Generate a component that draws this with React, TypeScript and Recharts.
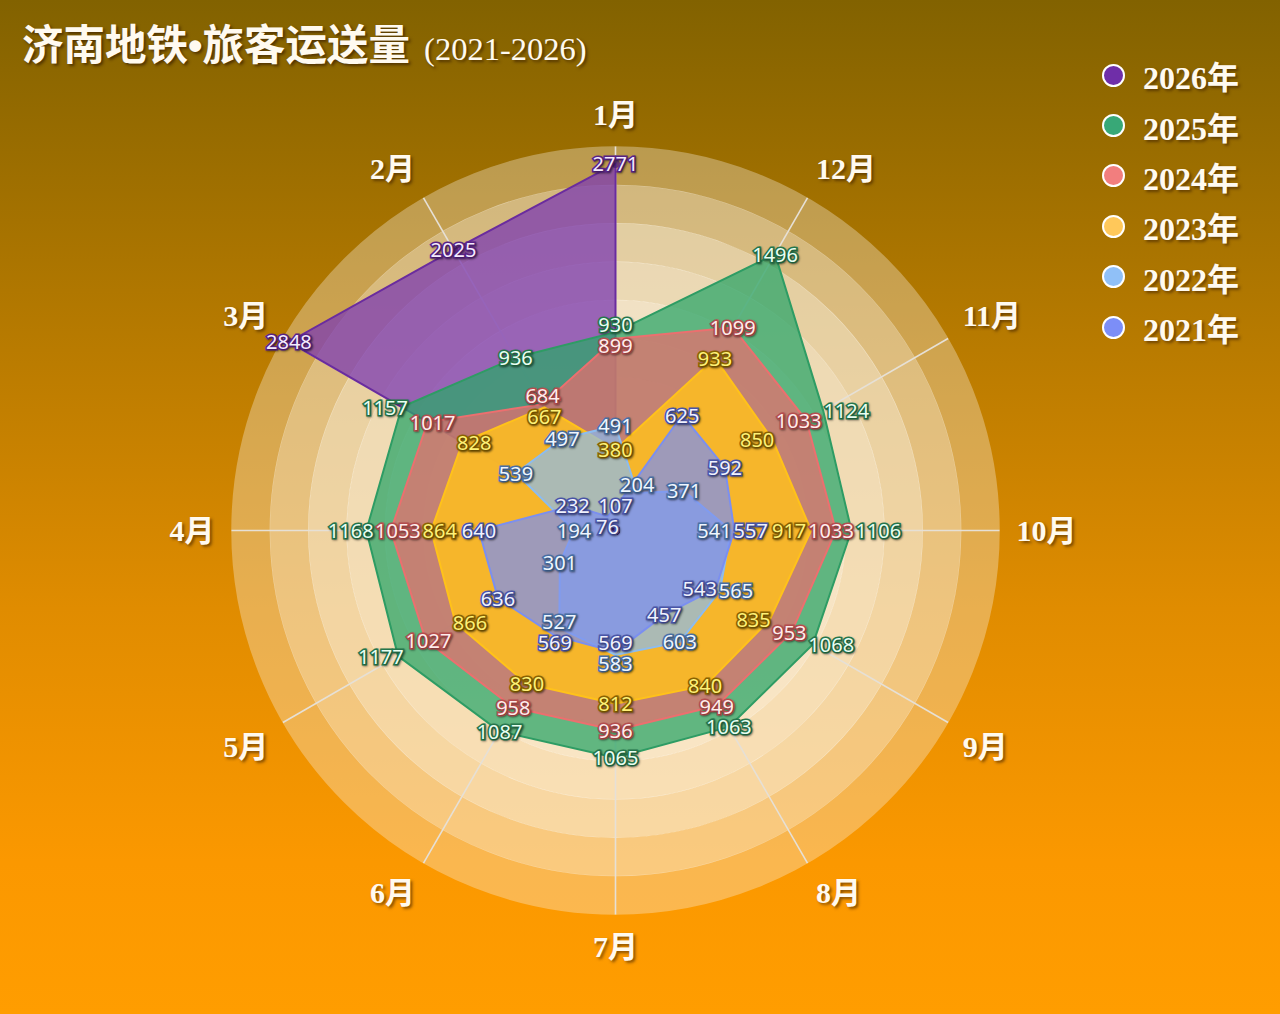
import React from 'react';
import {
  RadarChart,
  Radar,
  PolarGrid,
  PolarAngleAxis,
  PolarRadiusAxis,
  LabelList,
  Legend,
} from 'recharts';

// 济南地铁 monthly ridership (万人次)
const months = ['1月', '2月', '3月', '4月', '5月', '6月', '7月', '8月', '9月', '10月', '11月', '12月'];

const y2026 = [2771, 2025, 2848, null, null, null, null, null, null, null, null, null];
const y2025 = [930, 936, 1157, 1168, 1177, 1087, 1065, 1063, 1068, 1106, 1124, 1496];
const y2024 = [899, 684, 1017, 1053, 1027, 958, 936, 949, 953, 1033, 1033, 1099];
const y2023 = [380, 667, 828, 864, 866, 830, 812, 840, 835, 917, 850, 933];
const y2022 = [491, 497, 539, 194, 301, 527, 583, 603, 565, 541, 371, 204];
const y2021 = [107, 76, 232, 640, 636, 569, 569, 457, 543, 557, 592, 625];

// the 2026 polygon sits on its own radar with larger indicator maxima
const max2026 = [2900, 2400, 2900, 2900, 2900, 2900, 2900, 2900, 2900, 2900, 2900, 2900];
const maxBase = 1800;

const CX = 615.5;
const CY = 530.5;
const R = 384;

const series = [
  { key: 's2026', name: '2026年', values: y2026, stroke: '#6a2c9e', fill: '#7d3db2', opacity: 0.76, dot: '#6f2ea8', text: '#f5eaff', outline: '#5a2488' },
  { key: 's2025', name: '2025年', values: y2025, stroke: '#2e9c64', fill: '#2ea56a', opacity: 0.75, dot: '#38a877', text: '#e8fff2', outline: '#26784d' },
  { key: 's2024', name: '2024年', values: y2024, stroke: '#ec6f6f', fill: '#ea6e6e', opacity: 0.72, dot: '#f27e7e', text: '#ffeceb', outline: '#b84f50' },
  { key: 's2023', name: '2023年', values: y2023, stroke: '#ffc21a', fill: '#ffbf1f', opacity: 0.85, dot: '#ffc85a', text: '#fff176', outline: '#8c6400' },
  { key: 's2022', name: '2022年', values: y2022, stroke: '#8cbcf0', fill: '#8cbcf0', opacity: 0.7, dot: '#90c0f7', text: '#eef6ff', outline: '#4a70a6' },
  { key: 's2021', name: '2021年', values: y2021, stroke: '#7b8ff0', fill: '#7b8ff0', opacity: 0.72, dot: '#7c8ef7', text: '#f0f2ff', outline: '#4a56aa' },
];

const scaleOf = (key: string, i: number) => (key === 's2026' ? max2026[i] : maxBase);

// recharts walks clockwise, the original goes counter-clockwise: 1月, then 12月 ... 2月 clockwise
const order = months.map((_, k) => (k === 0 ? 0 : months.length - k));

const data = order.map((i) => {
  const row: any = { month: months[i] };
  series.forEach((s) => {
    const v = s.values[i];
    row[s.key] = v == null ? 0 : v / scaleOf(s.key, i);
    row[s.key + 'Raw'] = v;
  });
  return row;
});

// push overlapping value labels apart (like echarts' moveOverlap)
const labelOffsets = (() => {
  const boxes: any[] = [];
  series.forEach((s) => {
    s.values.forEach((v, i) => {
      if (v == null) return;
      const r = (v / scaleOf(s.key, i)) * R;
      const a = ((90 + 30 * i) * Math.PI) / 180;
      boxes.push({
        key: s.key + '-' + i,
        month: i,
        horiz: Math.abs(Math.cos(a)) > 0.7,
        x: CX + r * Math.cos(a),
        y: CY - r * Math.sin(a),
        w: String(v).length * 11.4 + 2,
        h: 21,
        dx: 0,
        dy: 0,
      });
    });
  });
  for (let it = 0; it < 120; it++) {
    let moved = false;
    for (let p = 0; p < boxes.length; p++) {
      for (let q = p + 1; q < boxes.length; q++) {
        const A = boxes[p];
        const B = boxes[q];
        const ax = A.x + A.dx, ay = A.y + A.dy, bx = B.x + B.dx, by = B.y + B.dy;
        const ox = (A.w + B.w) / 2 - Math.abs(ax - bx);
        const oy = (A.h + B.h) / 2 - Math.abs(ay - by);
        if (ox > 0.5 && oy > 0.5) {
          moved = true;
          const alongX = A.month === B.month ? A.horiz : ox < oy;
          if (alongX) {
            const sg = ax <= bx ? -1 : 1;
            A.dx += (sg * ox) / 2;
            B.dx -= (sg * ox) / 2;
          } else {
            const sg = ay <= by ? -1 : 1;
            A.dy += (sg * oy) / 2;
            B.dy -= (sg * oy) / 2;
          }
        }
      }
    }
    if (!moved) break;
  }
  const map: Record<string, { dx: number; dy: number }> = {};
  boxes.forEach((b) => (map[b.key] = { dx: b.dx, dy: b.dy }));
  return map;
})();

const ringAlpha = [0.35, 0.56, 0.72, 0.8, 0.87, 0.9, 0.92, 0.92, 0.92, 0.92];

function Rings() {
  const w = R / ringAlpha.length;
  return (
    <svg width={1280} height={1014} style={{ position: 'absolute', left: 0, top: 0 }}>
      {ringAlpha.map((a, i) => (
        <circle
          key={i}
          cx={CX}
          cy={CY}
          r={R - w * i - w / 2}
          fill="none"
          stroke={`rgba(250,241,225,${a})`}
          strokeWidth={w + 0.5}
        />
      ))}
    </svg>
  );
}

const MonthTick = (props: any) => {
  const { payload, x, y } = props;
  // anchor the month name just outside the rings, aligned away from the centre
  const dx = x - CX;
  const dy = y - CY;
  const d = Math.sqrt(dx * dx + dy * dy) || 1;
  const ux = dx / d;
  const uy = dy / d;
  const ax = CX + ux * (R + 17);
  const ay = CY + uy * (R + 17);
  const anchor = ux < -0.05 ? 'end' : ux > 0.05 ? 'start' : 'middle';
  const cy = uy < -0.05 ? ay - 15 : uy > 0.05 ? ay + 15 : ay;
  return (
    <text
      x={ax}
      y={cy}
      textAnchor={anchor}
      dominantBaseline="central"
      fontSize={30}
      fontWeight="bold"
      fontFamily="'Liberation Serif', 'Noto Sans CJK SC', serif"
      fill="#fffaf0"
      style={{ textShadow: '2px 2px 3px rgba(60,30,0,0.6)' }}
    >
      {payload.value}
    </text>
  );
};

const makeLabel = (s: any) => (props: any) => {
  const { x, y, value, index } = props;
  if (value == null || value === 0) return null;
  const off = labelOffsets[s.key + '-' + order[index]] || { dx: 0, dy: 0 };
  return (
    <text
      x={x + off.dx}
      y={y + off.dy}
      textAnchor="middle"
      dominantBaseline="central"
      fontSize={20}
      fontFamily="'Noto Sans', sans-serif"
      fill={s.text}
      stroke={s.outline}
      strokeWidth={3.2}
      paintOrder="stroke"
      style={{ textShadow: '1px 1px 2px rgba(0,0,0,0.4)' }}
    >
      {value}
    </text>
  );
};

const LegendBox = () => (
  <div style={{ display: 'flex', flexDirection: 'column' }}>
    {series.map((s) => (
      <div key={s.key} style={{ display: 'flex', alignItems: 'center', height: 50.4 }}>
        <span
          style={{
            width: 23,
            height: 23,
            borderRadius: '50%',
            background: s.dot,
            border: '2px solid #fff',
            boxSizing: 'border-box',
            marginRight: 18,
          }}
        />
        <span
          style={{
            fontSize: 32,
            fontWeight: 'bold',
            fontFamily: "'Liberation Serif', 'Noto Sans CJK SC', serif",
            color: '#fffaf0',
            textShadow: '2px 2px 3px rgba(60,30,0,0.6)',
          }}
        >
          {s.name}
        </span>
      </div>
    ))}
  </div>
);

export default function App() {
  return (
    <div
      style={{
        position: 'absolute',
        left: 0,
        top: 0,
        width: 1280,
        height: 1014,
        overflow: 'hidden',
        background: 'linear-gradient(180deg, #826200 0%, #b27800 30%, #e08c00 60%, #fb9800 85%, #ff9d00 100%)',
      }}
    >
      <Rings />
      <div
        style={{
          position: 'absolute',
          left: 22,
          top: 12,
          color: '#fffaf0',
          whiteSpace: 'nowrap',
          textShadow: '2px 2px 3px rgba(50,25,0,0.65)',
        }}
      >
        <span style={{ fontSize: 41.5, fontWeight: 'bold', fontFamily: "'Noto Sans CJK SC', sans-serif" }}>
          济南地铁<span style={{ fontFamily: "'Liberation Sans', sans-serif" }}>•</span>旅客运送量
        </span>
        <span style={{ fontSize: 32.5, fontFamily: "'Liberation Serif', serif", marginLeft: 14 }}>(2021-2026)</span>
      </div>
      <div style={{ position: 'absolute', left: 0, top: 0 }}>
        <RadarChart
          width={1280}
          height={1014}
          data={data}
          cx={CX}
          cy={CY}
          outerRadius={R}
          margin={{ top: 0, right: 0, bottom: 0, left: 0 }}
        >
          <PolarGrid gridType="circle" polarRadius={[0]} stroke="#e6e0d6" strokeWidth={1.6} />
          <PolarAngleAxis dataKey="month" tick={<MonthTick />} tickLine={false} axisLine={false} />
          <PolarRadiusAxis domain={[0, 1]} tick={false} axisLine={false} />
          {series.map((s) => (
            <Radar
              key={s.key}
              name={s.name}
              dataKey={s.key}
              stroke={s.stroke}
              strokeWidth={2}
              fill={s.fill}
              fillOpacity={s.opacity}
              dot={s.key === 's2026' ? { r: 4.5, fill: '#4b1d7a', stroke: 'none' } : false}
              isAnimationActive={false}
            />
          ))}
          {/* label-only copies so every value sits above all the fills */}
          {series.map((s) => (
            <Radar
              key={s.key + '-labels'}
              name={s.name + ' '}
              dataKey={s.key}
              stroke="none"
              fill="none"
              fillOpacity={0}
              legendType="none"
              isAnimationActive={false}
            >
              <LabelList dataKey={s.key + 'Raw'} content={makeLabel(s)} />
            </Radar>
          ))}
          <Legend
            layout="vertical"
            verticalAlign="top"
            align="right"
            wrapperStyle={{ position: 'absolute', left: 1102, top: 50, width: 170 }}
            content={() => <LegendBox />}
          />
        </RadarChart>
      </div>
    </div>
  );
}
